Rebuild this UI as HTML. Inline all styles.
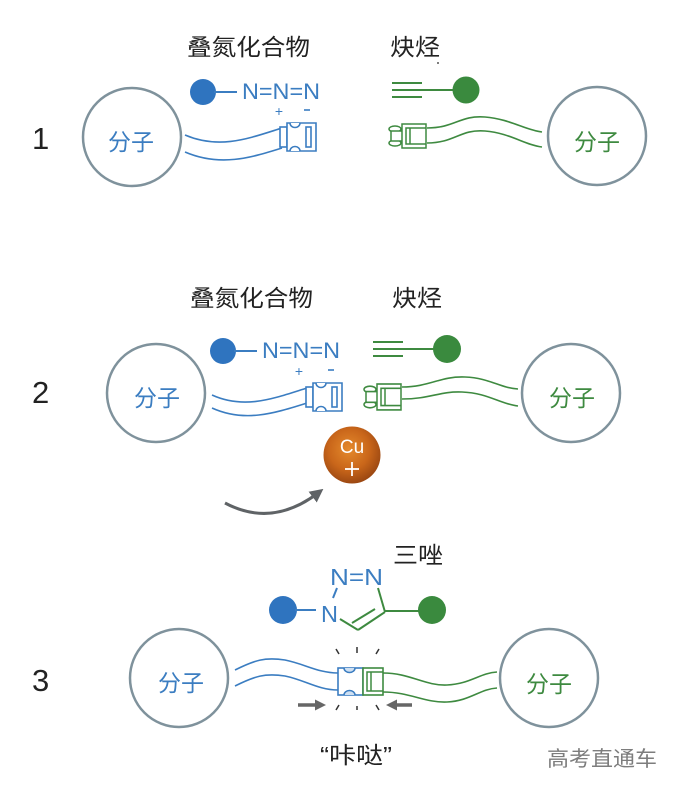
<!DOCTYPE html>
<html>
<head>
<meta charset="utf-8">
<style>
  html,body{margin:0;padding:0;background:#fff;}
  svg{display:block;}
  .cjk{font-family:"Liberation Sans","Noto Sans CJK SC",sans-serif;}
  .lat{font-family:"Liberation Sans","DejaVu Sans",sans-serif;}
</style>
</head>
<body>
<svg width="685" height="796" viewBox="0 0 685 796" xmlns="http://www.w3.org/2000/svg">
  <defs>
    <radialGradient id="cu" cx="45%" cy="40%" r="60%">
      <stop offset="0%" stop-color="#e58a2c"/>
      <stop offset="60%" stop-color="#c9661a"/>
      <stop offset="100%" stop-color="#9c4812"/>
    </radialGradient>
    <g id="female">
      <rect x="0" y="4" width="7" height="20" fill="#fff" stroke="#3b7dc1" stroke-width="1.6"/>
      <path d="M7,0 H36 V28 H7 Z" fill="#fff" stroke="#3b7dc1" stroke-width="1.6"/>
      <path d="M10,0 A5,4.5 0 0 0 20,0" fill="#fff" stroke="#3b7dc1" stroke-width="1.6"/>
      <path d="M10,28 A5,4.5 0 0 1 20,28" fill="#fff" stroke="#3b7dc1" stroke-width="1.6"/>
      <rect x="26" y="4" width="5" height="20" fill="#fff" stroke="#3b7dc1" stroke-width="1.6"/>
    </g>
    <g id="male">
      <ellipse cx="7" cy="5" rx="6" ry="3" fill="#fff" stroke="#3e8a40" stroke-width="1.5"/>
      <ellipse cx="7" cy="19" rx="6" ry="3" fill="#fff" stroke="#3e8a40" stroke-width="1.5"/>
      <path d="M14,7 H3 V17 H14" fill="#fff" stroke="#3e8a40" stroke-width="1.5"/>
      <rect x="14" y="0" width="24" height="24" fill="#fff" stroke="#3e8a40" stroke-width="1.5"/>
      <path d="M38,4 H18 V20 H38" fill="none" stroke="#3e8a40" stroke-width="1.5"/>
      <line x1="22" y1="4" x2="22" y2="20" stroke="#3e8a40" stroke-width="1.5"/>
    </g>
    <marker id="ah" viewBox="0 0 10 10" refX="5" refY="5" markerWidth="4.5" markerHeight="4.5" orient="auto">
      <path d="M0,0 L10,5 L0,10 Z" fill="#5f6366"/>
    </marker>
  </defs>

  <!-- ========== Panel 1 ========== -->
  <text x="32" y="149" class="lat" font-size="31" fill="#222">1</text>
  <text x="187" y="55" class="cjk" font-size="23" fill="#222" textLength="123" lengthAdjust="spacingAndGlyphs">叠氮化合物</text>
  <text x="390" y="55" class="cjk" font-size="23" fill="#222" textLength="50" lengthAdjust="spacingAndGlyphs">炔烃</text>
  <circle cx="438" cy="63" r="1" fill="#555"/>

  <!-- azide -->
  <circle cx="203" cy="92" r="13" fill="#2f74bf"/>
  <line x1="214" y1="92" x2="237" y2="92" stroke="#3b7dc1" stroke-width="2"/>
  <text x="242" y="99" class="lat" font-size="22" fill="#3b7dc1" textLength="78" lengthAdjust="spacingAndGlyphs">N=N=N</text>
  <text x="279" y="116" class="lat" font-size="14" fill="#3b7dc1" text-anchor="middle">+</text>
  <line x1="304" y1="110" x2="310" y2="110" stroke="#3b7dc1" stroke-width="1.6"/>

  <!-- alkyne -->
  <line x1="392" y1="83" x2="422" y2="83" stroke="#3e8a40" stroke-width="2"/>
  <line x1="392" y1="90" x2="455" y2="90" stroke="#3e8a40" stroke-width="2"/>
  <line x1="392" y1="97" x2="422" y2="97" stroke="#3e8a40" stroke-width="2"/>
  <circle cx="466" cy="90" r="13.5" fill="#3a8a3e"/>

  <!-- molecules -->
  <circle cx="132" cy="137" r="49" fill="none" stroke="#7f929c" stroke-width="2.5"/>
  <text x="131" y="150" class="cjk" font-size="23" fill="#3b7dc1" text-anchor="middle">分子</text>
  <circle cx="597" cy="136" r="49" fill="none" stroke="#7f929c" stroke-width="2.5"/>
  <text x="597" y="150" class="cjk" font-size="23" fill="#3e8a40" text-anchor="middle">分子</text>

  <!-- tethers -->
  <path d="M185,135 C220,150 250,138 282,128" fill="none" stroke="#3b7dc1" stroke-width="1.6"/>
  <path d="M185,152 C220,167 250,158 282,148" fill="none" stroke="#3b7dc1" stroke-width="1.6"/>
  <use href="#female" transform="translate(280,123)"/>
  <path d="M427,128 C455,128 460,115 485,117 C510,119 525,130 542,132" fill="none" stroke="#3e8a40" stroke-width="1.6"/>
  <path d="M427,143 C455,143 460,129 485,131 C510,133 525,145 542,147" fill="none" stroke="#3e8a40" stroke-width="1.6"/>
  <use href="#male" transform="translate(388,124)"/>

  <!-- ========== Panel 2 ========== -->
  <text x="32" y="403" class="lat" font-size="31" fill="#222">2</text>
  <text x="190" y="306" class="cjk" font-size="23" fill="#222" textLength="123" lengthAdjust="spacingAndGlyphs">叠氮化合物</text>
  <text x="392" y="306" class="cjk" font-size="23" fill="#222" textLength="50" lengthAdjust="spacingAndGlyphs">炔烃</text>

  <circle cx="223" cy="351" r="13" fill="#2f74bf"/>
  <line x1="234" y1="351" x2="257" y2="351" stroke="#3b7dc1" stroke-width="2"/>
  <text x="262" y="358" class="lat" font-size="22" fill="#3b7dc1" textLength="78" lengthAdjust="spacingAndGlyphs">N=N=N</text>
  <text x="299" y="376" class="lat" font-size="14" fill="#3b7dc1" text-anchor="middle">+</text>
  <line x1="328" y1="370" x2="334" y2="370" stroke="#3b7dc1" stroke-width="1.6"/>

  <line x1="373" y1="342" x2="403" y2="342" stroke="#3e8a40" stroke-width="2"/>
  <line x1="373" y1="349" x2="436" y2="349" stroke="#3e8a40" stroke-width="2"/>
  <line x1="373" y1="356" x2="403" y2="356" stroke="#3e8a40" stroke-width="2"/>
  <circle cx="447" cy="349" r="14" fill="#3a8a3e"/>

  <circle cx="156" cy="393" r="49" fill="none" stroke="#7f929c" stroke-width="2.5"/>
  <text x="157" y="406" class="cjk" font-size="23" fill="#3b7dc1" text-anchor="middle">分子</text>
  <circle cx="571" cy="393" r="49" fill="none" stroke="#7f929c" stroke-width="2.5"/>
  <text x="572" y="406" class="cjk" font-size="23" fill="#3e8a40" text-anchor="middle">分子</text>

  <path d="M212,395 C245,410 275,398 307,388" fill="none" stroke="#3b7dc1" stroke-width="1.6"/>
  <path d="M212,408 C245,423 275,413 307,403" fill="none" stroke="#3b7dc1" stroke-width="1.6"/>
  <use href="#female" transform="translate(306,383)"/>
  <path d="M402,387 C430,387 440,376 465,377 C490,378 500,388 518,389" fill="none" stroke="#3e8a40" stroke-width="1.6"/>
  <path d="M402,399 C430,399 440,391 462,392 C488,393 500,404 518,406" fill="none" stroke="#3e8a40" stroke-width="1.6"/>
  <use href="#male" transform="translate(363,384) scale(1,1.08)"/>

  <!-- Cu+ -->
  <circle cx="352" cy="455" r="28.5" fill="url(#cu)"/>
  <text x="352" y="453" class="lat" font-size="19" fill="#fff" text-anchor="middle">Cu</text>
  <line x1="345" y1="469" x2="359" y2="469" stroke="#fff" stroke-width="1.8"/>
  <line x1="352" y1="462" x2="352" y2="476" stroke="#fff" stroke-width="1.8"/>

  <!-- curved arrow -->
  <path d="M225,503 Q272,528 318,493" fill="none" stroke="#5f6366" stroke-width="3" marker-end="url(#ah)"/>

  <!-- ========== Panel 3 ========== -->
  <text x="32" y="691" class="lat" font-size="31" fill="#222">3</text>
  <text x="393" y="563" class="cjk" font-size="23" fill="#222" textLength="50" lengthAdjust="spacingAndGlyphs">三唑</text>

  <!-- triazole -->
  <text x="330" y="585" class="lat" font-size="23" fill="#3b7dc1" textLength="53" lengthAdjust="spacingAndGlyphs">N=N</text>
  <text x="321" y="622" class="lat" font-size="23" fill="#3b7dc1" textLength="17" lengthAdjust="spacingAndGlyphs">N</text>
  <line x1="337" y1="588" x2="333" y2="598" stroke="#3b7dc1" stroke-width="2"/>
  <line x1="378" y1="588" x2="385" y2="612" stroke="#3e8a40" stroke-width="2"/>
  <line x1="385" y1="612" x2="358" y2="630" stroke="#3e8a40" stroke-width="2"/>
  <line x1="375" y1="609" x2="352" y2="623" stroke="#3e8a40" stroke-width="2"/>
  <line x1="358" y1="630" x2="340" y2="619" stroke="#3e8a40" stroke-width="2"/>
  <circle cx="283" cy="610" r="14" fill="#2f74bf"/>
  <line x1="295" y1="610" x2="316" y2="610" stroke="#3b7dc1" stroke-width="2"/>
  <line x1="385" y1="611" x2="420" y2="611" stroke="#3e8a40" stroke-width="2"/>
  <circle cx="432" cy="610" r="14" fill="#3a8a3e"/>

  <!-- molecules -->
  <circle cx="179" cy="678" r="49" fill="none" stroke="#7f929c" stroke-width="2.5"/>
  <text x="181" y="691" class="cjk" font-size="23" fill="#3b7dc1" text-anchor="middle">分子</text>
  <circle cx="549" cy="678" r="49" fill="none" stroke="#7f929c" stroke-width="2.5"/>
  <text x="549" y="692" class="cjk" font-size="23" fill="#3e8a40" text-anchor="middle">分子</text>

  <!-- tethers -->
  <path d="M235,670 C255,660 265,657 285,660 C305,664 318,673 338,673" fill="none" stroke="#3b7dc1" stroke-width="1.6"/>
  <path d="M235,686 C255,676 265,673 285,676 C305,680 318,690 338,690" fill="none" stroke="#3b7dc1" stroke-width="1.6"/>
  <path d="M383,673 C410,673 425,686 447,685 C470,684 480,673 497,672" fill="none" stroke="#3e8a40" stroke-width="1.6"/>
  <path d="M383,692 C410,692 425,703 447,702 C470,701 480,689 497,688" fill="none" stroke="#3e8a40" stroke-width="1.6"/>

  <!-- connected buckle -->
  <rect x="338" y="668" width="25" height="27" fill="#fff" stroke="#3b7dc1" stroke-width="1.6"/>
  <path d="M344,668 A5.5,4.5 0 0 0 355,668" fill="#cfe0f2" stroke="#3b7dc1" stroke-width="1.6"/>
  <path d="M344,695 A5.5,4.5 0 0 1 355,695" fill="#cfe0f2" stroke="#3b7dc1" stroke-width="1.6"/>
  <rect x="363" y="668" width="20" height="27" fill="#fff" stroke="#3e8a40" stroke-width="1.6"/>
  <path d="M383,672 H367 V691 H383" fill="none" stroke="#3e8a40" stroke-width="1.5"/>
  <line x1="371" y1="672" x2="371" y2="691" stroke="#3e8a40" stroke-width="1.5"/>

  <!-- burst -->
  <g stroke="#333" stroke-width="1.5">
    <line x1="336" y1="649" x2="339" y2="654"/>
    <line x1="357" y1="647" x2="357" y2="653"/>
    <line x1="379" y1="649" x2="376" y2="654"/>
    <line x1="339" y1="705" x2="336" y2="710"/>
    <line x1="357" y1="706" x2="357" y2="710"/>
    <line x1="376" y1="705" x2="379" y2="710"/>
  </g>

  <!-- push arrows -->
  <line x1="298" y1="705" x2="316" y2="705" stroke="#666" stroke-width="3.5"/>
  <path d="M315,699.5 L326,705 L315,710.5 Z" fill="#666"/>
  <line x1="412" y1="705" x2="396" y2="705" stroke="#666" stroke-width="3.5"/>
  <path d="M397,699.5 L386,705 L397,710.5 Z" fill="#666"/>

  <text x="320" y="763" class="cjk" font-size="23" fill="#222" textLength="72" lengthAdjust="spacingAndGlyphs">“咔哒”</text>

  <!-- watermark -->
  <text x="547" y="766" class="cjk" font-size="21" fill="#7d7d7d" textLength="110" lengthAdjust="spacingAndGlyphs">高考直通车</text>
</svg>
</body>
</html>
